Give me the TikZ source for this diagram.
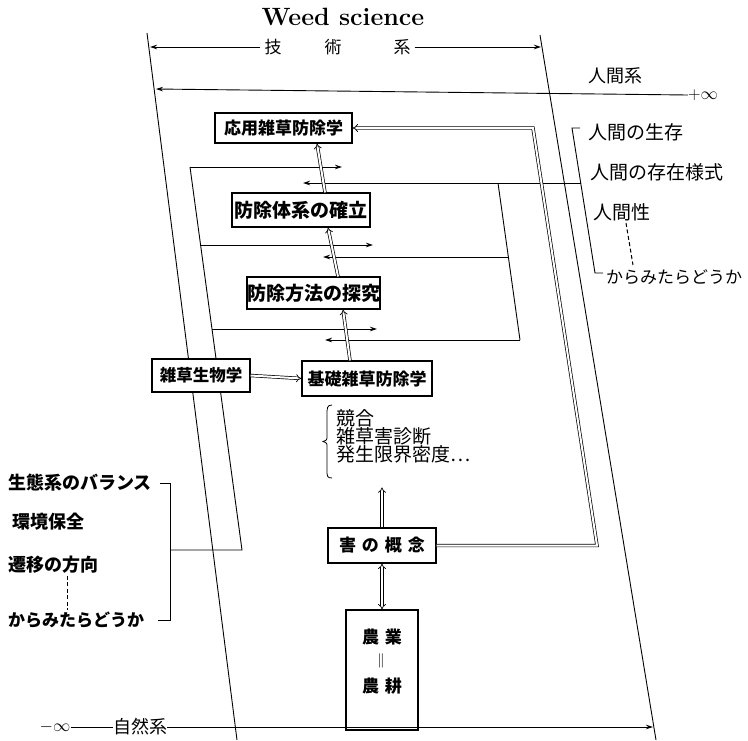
\documentclass[tikz,border=0pt]{standalone}
\usepackage{fontspec}
\newfontfamily\jp{Noto Sans CJK JP}
\usetikzlibrary{arrows.meta}
\begin{document}
\begin{tikzpicture}[x=1pt,y=-1pt,
  box/.style={draw, line width=1.2pt, fill=white, inner sep=0pt},
  ln/.style={line width=0.9pt},
  harr/.style={ln, -{Stealth[length=7pt,width=4.5pt]}},
  dbl/.style={double, double distance=2pt, line width=0.7pt},
  darr/.style={dbl, -{Implies}},
  ddarr/.style={dbl, {Implies}-{Implies}},
  lbl/.style={inner sep=0pt, anchor=west},
  jb/.style={font=\jp\bfseries\fontsize{#1}{#1}\selectfont},
  jr/.style={font=\jp\fontsize{#1}{#1}\selectfont},
]
\useasboundingbox (0,0) rectangle (748,740);

% frame lines
\draw[ln] (147,33) -- (237,740);
\draw[ln] (540,35) -- (656,740);

% title and top arrow
\node[font=\fontsize{25}{28}\selectfont\bfseries] (title) at (343,17) {Weed science};
\node[jr=17, inner sep=0pt] (gi) at (273,47) {技};
\node[jr=17, inner sep=0pt] (jutsu) at (333,47) {術};
\node[jr=17, inner sep=0pt] (kei) at (402,47) {系};
\coordinate (tl) at (150,47);
\coordinate (tr) at (541,47);
\draw[harr] ([xshift=-4pt]gi.west) -- (tl);
\draw[harr] ([xshift=4pt]kei.east) -- (tr);

% human system line
\node[lbl, jr=18] (jinkan) at (588,76) {人間系};
\node[inner sep=0pt, font=\fontsize{19}{21}\selectfont] (pinf) at (703,95) {$+\infty$};
\coordinate (hl) at (156,89);
\draw[harr] (pinf.west) -- (hl);

% left polyline (inputs)
\coordinate (lb1) at (170,483);
\coordinate (lb2) at (170,620);
\coordinate (lbm) at (170,550);
\coordinate (ls1) at (242,550);
\coordinate (ls2) at (190,167);
\draw[ln] (160,483) -- (lb1) -- (lb2) -- (158,620);
\draw[ln] (lbm) -- (ls1) -- (ls2);
\coordinate (la1) at (342,167);
\coordinate (la2s) at (201,245);
\coordinate (la2) at (373,245);
\coordinate (la3s) at (212,329);
\coordinate (la3) at (377,329);
\draw[harr] (ls2) -- (la1);
\draw[harr] (la2s) -- (la2);
\draw[harr] (la3s) -- (la3);

% right polyline (inputs)
\coordinate (rb1) at (572,128);
\coordinate (rb2) at (595,273);
\draw[ln] (580,128) -- (rb1) -- (rb2) -- (603,273);
\coordinate (rh0) at (580.7,183);
\coordinate (rs1) at (498,183);
\coordinate (rs2) at (520,340);
\coordinate (rs3) at (508.4,257);
\coordinate (ra1) at (303,183);
\coordinate (ra2) at (323,257);
\coordinate (ra3) at (325,340);
\draw[harr] (rh0) -- (ra1);
\draw[ln] (rs1) -- (rs2);
\draw[harr] (rs3) -- (ra2);
\draw[harr] (rs2) -- (ra3);

% boxes
\node[box, jb=17, minimum width=137pt, minimum height=30pt] (oyo) at (283.5,128) {応用雑草防除学};
\node[box, jb=19, minimum width=138pt, minimum height=34pt] (taikei) at (301,210) {防除体系の確立};
\node[box, jb=19, minimum width=133pt, minimum height=32pt] (hoho) at (313.5,293) {防除方法の探究};
\node[box, jb=16.5, minimum width=98pt, minimum height=33pt] (zasso) at (201,375.5) {雑草生物学};
\node[box, jb=17, minimum width=130pt, minimum height=35pt] (kiso) at (367,378.5) {基礎雑草防除学};
\node[box, jb=17, minimum width=108pt, minimum height=35pt] (gai) at (382,545.5) {害\hspace{6pt}の\hspace{6pt}概\hspace{6pt}念};
\node[box, minimum width=72pt, minimum height=120pt] (nogyo) at (382,670) {};
\node[jb=17, inner sep=0pt] (nogyo1) at (382,637) {農\hspace{6pt}業};
\node[inner sep=0pt, font=\fontsize{15}{15}\selectfont] (nogyoeq) at (381,661) {$\|$};
\node[jb=17, inner sep=0pt] (nogyo2) at (382,686) {農\hspace{6pt}耕};

% central arrows
\draw[darr] ([xshift=-17pt]kiso.north) -- ([xshift=29.5pt]hoho.south);
\draw[darr] ([xshift=24.5pt]hoho.north) -- ([xshift=27pt]taikei.south);
\draw[darr] ([xshift=24pt]taikei.north) -- ([xshift=33.5pt]oyo.south);
\draw[darr] (zasso.east) -- (kiso.west);
\draw[darr] (gai.north) -- ([yshift=40pt]gai.north);
\draw[ddarr] (gai.south) -- (nogyo.north);
\coordinate (fb1) at (597,545.5);
\coordinate (fb2) at (533,128);
\draw[darr] (gai.east) -- (fb1) -- (fb2) -- (oyo.east);

% brace and list
\draw[line width=0.8pt] (332,405) .. controls (327,405) and (327,408) .. (327,415) -- (327,436)
  .. controls (327,440) .. (323,441.5) .. controls (327,443) .. (327,447) -- (327,470)
  .. controls (327,476) and (327,478) .. (332,478);
\node[lbl, jr=19, align=left] (list) at (336,436) {競合\\[-1pt]雑草害診断\\[-1pt]発生限界密度…};

% left labels
\node[lbl, jb=18] (eco) at (8,483) {生態系のバランス};
\node[lbl, jb=18] (kankyo) at (12,522) {環境保全};
\node[lbl, jb=18] (seni) at (8,565) {遷移の方向};
\node[lbl, jb=17] (karaL) at (8,620) {からみたらどうか};
\draw[line width=1pt, dashed, dash pattern=on 4pt off 2.5pt] ([xshift=59pt,yshift=-2pt]seni.south west) -- ([xshift=59pt,yshift=2pt]karaL.north west);

% right labels
\node[lbl, jr=19] (seizon) at (588,132) {人間の生存};
\node[lbl, jr=19] (yoshiki) at (590,172) {人間の存在様式};
\node[lbl, jr=19] (ningensei) at (593,212) {人間性};
\node[lbl, jr=17] (karaR) at (606,277) {からみたらどうか};
\coordinate (dr1) at (626,223);
\coordinate (dr2) at (633,265);
\draw[line width=1pt, dashed, dash pattern=on 4pt off 2.5pt] (dr1) -- (dr2);

% bottom natural system line
\node[inner sep=0pt, font=\fontsize{18}{20}\selectfont] (ninf) at (55,727) {$-\infty$};
\node[lbl, jr=18] (shizen) at (113,727) {自然系};
\coordinate (br) at (653,727);
\draw[ln] (ninf.east) -- (shizen.west);
\draw[harr] (shizen.east) -- (br);
\end{tikzpicture}
\end{document}
